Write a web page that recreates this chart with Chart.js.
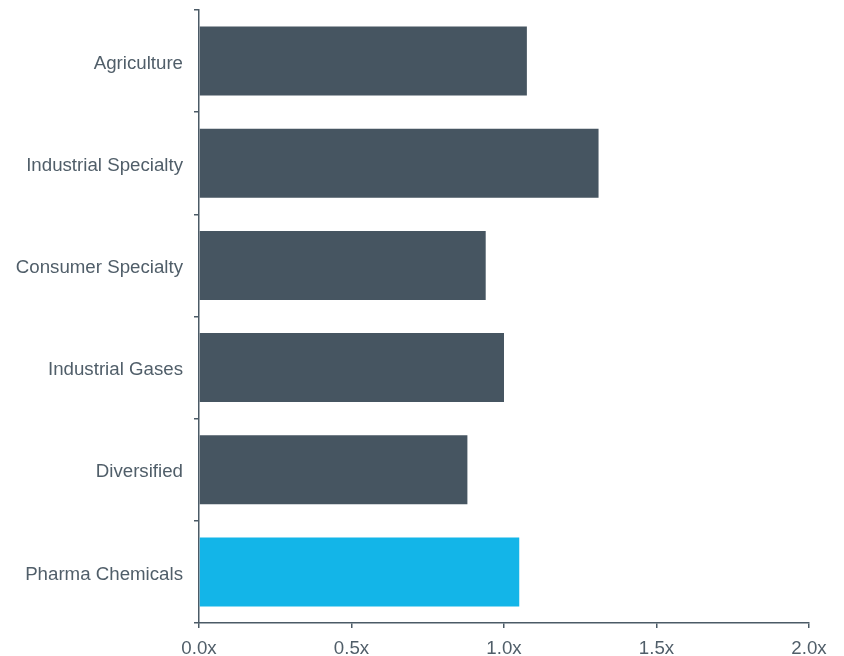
<!DOCTYPE html>
<html>
<head>
<meta charset="utf-8">
<script src="https://cdn.jsdelivr.net/npm/chart.js@4/dist/chart.umd.min.js"></script>
<style>
  html, body { margin: 0; padding: 0; background: #fff; }
  #wrap { width: 844px; height: 656px; }
</style>
</head>
<body>
<div id="wrap"><canvas id="multiplesChart"></canvas></div>
<script>
const categories = ["Agriculture", "Industrial Specialty", "Consumer Specialty", "Industrial Gases", "Diversified", "Pharma Chemicals"];
const multiples = [1.075, 1.31, 0.94, 1.0, 0.88, 1.05];
const barColors = ["#465561", "#465561", "#465561", "#465561", "#465561", "#13b5e8"];
const xTicks = [0, 0.5, 1.0, 1.5, 2.0];

const axisColor = "#4b5a66";
const textColor = "#505e69";
const labelFont = { family: "'Liberation Sans', Arial, sans-serif", size: 18.7 };

const ctx = document.getElementById("multiplesChart").getContext("2d");
new Chart(ctx, {
    type: "bar",
    data: {
        labels: categories,
        datasets: [
            {
                data: multiples,
                backgroundColor: barColors,
                borderWidth: 0,
                categoryPercentage: 1.0,
                barPercentage: 0.675,
            },
        ],
    },
    options: {
        indexAxis: "y",
        responsive: true,
        maintainAspectRatio: false,
        animation: false,
        layout: { padding: { top: 10, right: 35, bottom: 0, left: 0 } },
        plugins: { legend: { display: false }, tooltip: { enabled: false } },
        scales: {
            x: {
                min: 0,
                max: 2,
                afterBuildTicks: (scale) => {
                    scale.ticks = xTicks.map((v) => ({ value: v }));
                },
                afterFit: (scale) => { scale.height = 33; },
                border: { color: axisColor, width: 1.5 },
                grid: { drawOnChartArea: false, drawTicks: true, tickLength: 5, color: axisColor, lineWidth: 1.5 },
                ticks: {
                    color: textColor,
                    padding: 10,
                    font: labelFont,
                    callback: (v) => Number(v).toFixed(1) + "x",
                },
            },
            y: {
                offset: true,
                afterFit: (scale) => {
                    scale.width = 199;
                    scale.paddingTop = 0;
                    scale.paddingBottom = 0;
                },
                border: { color: axisColor, width: 1.5 },
                grid: { offset: true, drawOnChartArea: false, drawTicks: true, tickLength: 5, color: axisColor, lineWidth: 1.5 },
                ticks: {
                    color: textColor,
                    padding: 11,
                    font: { ...labelFont, lineHeight: "5px" },
                    // empty first line nudges each label ~2.5px down to sit centred on its bar
                    callback: (v, i) => ["", categories[i]],
                },
            },
        },
    },
});
</script>
</body>
</html>
